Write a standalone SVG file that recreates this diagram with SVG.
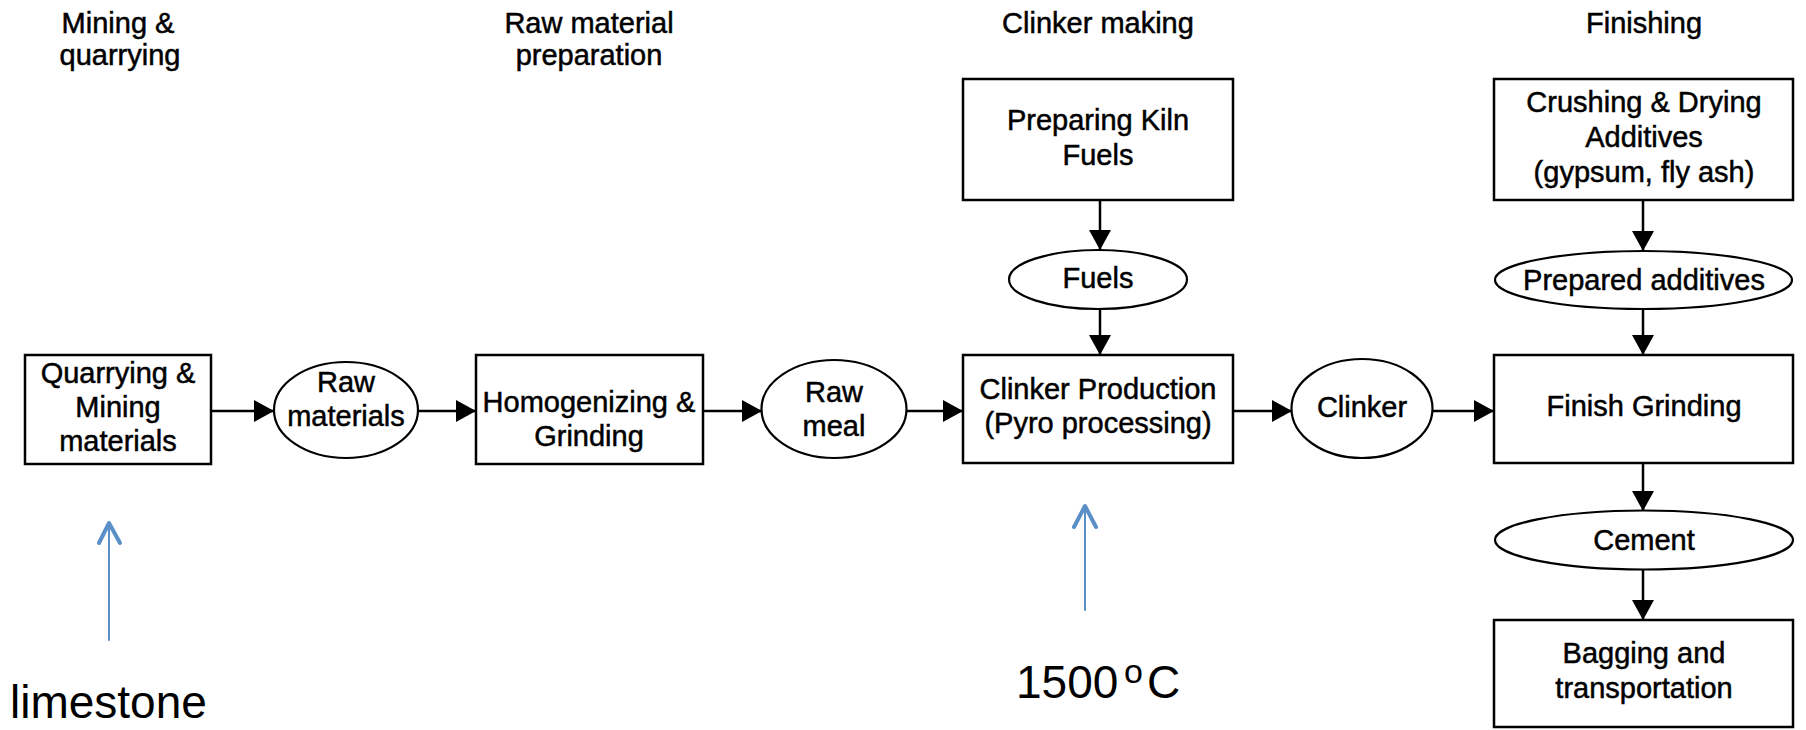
<svg xmlns="http://www.w3.org/2000/svg" width="1806" height="730" viewBox="0 0 1806 730">
<style>
.box{fill:#fff;stroke:#000;stroke-width:2.5}
.ell{fill:#fff;stroke:#000;stroke-width:2.2}
.t{font-family:"Liberation Sans",Arial,sans-serif;font-size:29px;fill:#000;stroke:#000;stroke-width:0.5;text-anchor:middle}
.big{font-family:"Liberation Sans",Arial,sans-serif;font-size:46px;fill:#000}
.con{stroke:#000;stroke-width:2.5;fill:none;marker-end:url(#ah)}
.blue{stroke:#5B8FC7;fill:none;stroke-linecap:round;stroke-linejoin:round}
</style>
<defs>
<marker id="ah" viewBox="0 0 20 22" refX="20" refY="11" markerWidth="20" markerHeight="22" markerUnits="userSpaceOnUse" orient="auto">
<path d="M0,0 L20,11 L0,22 Z" fill="#000"/>
</marker>
</defs>
<rect width="1806" height="730" fill="#fff"/>
<g id="titles">
<text class="t" x="118" y="33">Mining &amp;</text>
<text class="t" x="120" y="65">quarrying</text>
<text class="t" x="589" y="33">Raw material</text>
<text class="t" x="589" y="65">preparation</text>
<text class="t" x="1098" y="33">Clinker making</text>
<text class="t" x="1644" y="33">Finishing</text>
</g>
<g id="connectors">
<line class="con" x1="211" y1="411" x2="274" y2="411"/>
<line class="con" x1="418" y1="411" x2="476" y2="411"/>
<line class="con" x1="703" y1="411" x2="762" y2="411"/>
<line class="con" x1="907" y1="411" x2="963" y2="411"/>
<line class="con" x1="1233" y1="411" x2="1292" y2="411"/>
<line class="con" x1="1433" y1="411" x2="1494" y2="411"/>
<line class="con" x1="1100" y1="200" x2="1100" y2="250"/>
<line class="con" x1="1100" y1="309" x2="1100" y2="355"/>
<line class="con" x1="1643" y1="200" x2="1643" y2="251"/>
<line class="con" x1="1643" y1="309" x2="1643" y2="355"/>
<line class="con" x1="1643" y1="463" x2="1643" y2="511"/>
<line class="con" x1="1643" y1="570" x2="1643" y2="620"/>
</g>
<g id="quarrying">
<rect class="box" x="25" y="355" width="186" height="109"/>
<text class="t" x="118" y="383">Quarrying &amp;</text>
<text class="t" x="118" y="417">Mining</text>
<text class="t" x="118" y="451">materials</text>
</g>
<g id="raw-materials">
<ellipse class="ell" cx="346" cy="410" rx="72" ry="48"/>
<text class="t" x="346" y="392">Raw</text>
<text class="t" x="346" y="426">materials</text>
</g>
<g id="homogenizing">
<rect class="box" x="476" y="355" width="227" height="109"/>
<text class="t" x="589" y="412">Homogenizing &amp;</text>
<text class="t" x="589" y="446">Grinding</text>
</g>
<g id="raw-meal">
<ellipse class="ell" cx="834" cy="409" rx="72.5" ry="49"/>
<text class="t" x="834" y="402">Raw</text>
<text class="t" x="834" y="436">meal</text>
</g>
<g id="preparing-kiln">
<rect class="box" x="963" y="79" width="270" height="121"/>
<text class="t" x="1098" y="130">Preparing Kiln</text>
<text class="t" x="1098" y="165">Fuels</text>
</g>
<g id="fuels">
<ellipse class="ell" cx="1098" cy="279.5" rx="89" ry="29.5"/>
<text class="t" x="1098" y="288">Fuels</text>
</g>
<g id="clinker-production">
<rect class="box" x="963" y="355" width="270" height="108"/>
<text class="t" x="1098" y="399">Clinker Production</text>
<text class="t" x="1098" y="433">(Pyro processing)</text>
</g>
<g id="clinker">
<ellipse class="ell" cx="1362" cy="408.5" rx="70.5" ry="49.5"/>
<text class="t" x="1362" y="417">Clinker</text>
</g>
<g id="crushing">
<rect class="box" x="1494" y="79" width="299" height="121"/>
<text class="t" x="1644" y="112">Crushing &amp; Drying</text>
<text class="t" x="1644" y="147">Additives</text>
<text class="t" x="1644" y="182">(gypsum, fly ash)</text>
</g>
<g id="prepared-additives">
<ellipse class="ell" cx="1643.5" cy="280" rx="148.5" ry="29"/>
<text class="t" x="1644" y="290">Prepared additives</text>
</g>
<g id="finish-grinding">
<rect class="box" x="1494" y="355" width="299" height="108"/>
<text class="t" x="1644" y="416">Finish Grinding</text>
</g>
<g id="cement">
<ellipse class="ell" cx="1644" cy="540" rx="149" ry="29.5"/>
<text class="t" x="1644" y="550">Cement</text>
</g>
<g id="bagging">
<rect class="box" x="1494" y="620" width="299" height="107"/>
<text class="t" x="1644" y="663">Bagging and</text>
<text class="t" x="1644" y="698">transportation</text>
</g>
<g id="limestone-note">
<line class="blue" stroke-width="2" x1="109" y1="640" x2="109" y2="524"/>
<polyline class="blue" stroke-width="4" points="99,543 109,523 120,543"/>
<text class="big" x="10" y="718" font-size="47">limestone</text>
</g>
<g id="temperature-note">
<line class="blue" stroke-width="2" x1="1085" y1="610" x2="1085" y2="507"/>
<polyline class="blue" stroke-width="4" points="1074,527 1085,506 1096,527"/>
<text class="big" x="1016" y="698">1500<tspan x="1124" y="683" font-size="34">o</tspan><tspan x="1147" y="698">C</tspan></text>
</g>
</svg>
